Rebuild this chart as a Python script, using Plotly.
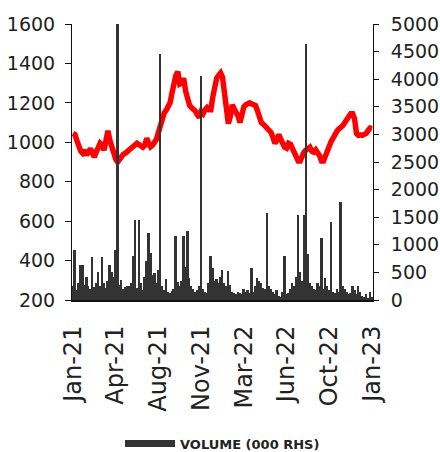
import plotly.graph_objects as go

# Trading-period index along the category axis
tick_labels = ["Jan-21", "Apr-21", "Aug-21", "Nov-21", "Mar-22", "Jun-22", "Oct-22", "Jan-23"]
tick_step = 22

# Share price (LHS)
price = [
    1045, 1040, 1010, 975, 955, 945, 960, 935, 950, 968,
    945, 926, 950, 970, 995, 985, 960, 1010, 1058, 1010,
    970, 940, 915, 900, 915, 928, 940, 945, 955, 960,
    972, 985, 990, 995, 988, 985, 975, 985, 1020, 995,
    977, 985, 1000, 1015, 1050, 1090, 1125, 1150, 1162, 1180,
    1200, 1250, 1300, 1340, 1358, 1295, 1300, 1325, 1260, 1205,
    1188, 1176, 1170, 1159, 1140, 1126, 1155, 1145, 1165, 1176,
    1165, 1165, 1230, 1290, 1325, 1340, 1352, 1330, 1250, 1140,
    1095, 1130, 1190, 1170, 1155, 1134, 1100, 1150, 1180, 1190,
    1195, 1200, 1195, 1192, 1186, 1160, 1120, 1100, 1092, 1080,
    1070, 1055, 1050, 1025, 995, 1010, 1040, 1015, 985, 975,
    970, 995, 990, 968, 945, 918, 905, 905, 935, 950,
    960, 970, 975, 955, 950, 962, 950, 932, 905, 905,
    930, 960, 985, 1005, 1022, 1045, 1058, 1068, 1075, 1085,
    1100, 1115, 1132, 1145, 1145, 1120, 1045, 1035, 1038, 1035,
    1040, 1045, 1060, 1072, 1070,
]

# Traded volume, thousands of shares (RHS)
volume = [
    250, 900, 180, 300, 634, 634, 280, 423, 260, 200,
    773, 240, 300, 507, 250, 773, 300, 220, 350, 634,
    507, 420, 906, 5000, 280, 362, 200, 230, 260, 250,
    300, 797, 1449, 220, 1449, 300, 180, 420, 700, 1220,
    845, 450, 483, 300, 544, 4457, 250, 180, 380, 150,
    120, 160, 200, 1160, 320, 250, 350, 1160, 604, 1250,
    400, 250, 200, 150, 180, 250, 4058, 200, 150, 120,
    300, 797, 580, 350, 380, 300, 420, 544, 300, 250,
    532, 280, 150, 120, 100, 150, 130, 110, 200, 150,
    180, 120, 580, 150, 250, 392, 350, 300, 220, 200,
    1570, 250, 200, 150, 100, 180, 80, 50, 150, 797,
    100, 120, 200, 300, 250, 420, 1540, 500, 350, 1540,
    4640, 833, 300, 250, 200, 180, 300, 250, 1123, 200,
    392, 250, 180, 1413, 150, 120, 200, 150, 1781, 250,
    200, 150, 100, 120, 250, 180, 100, 250, 150, 80,
    60, 100, 40, 150, 60,
]

x = list(range(len(price)))
tick_vals = [i * tick_step for i in range(len(tick_labels))]

fig = go.Figure()

fig.add_trace(go.Bar(
    x=x, y=volume, yaxis="y2", name="VOLUME (000 RHS)",
    marker=dict(color="#333333", line=dict(width=0)),
    showlegend=False,
))

fig.add_trace(go.Scatter(
    x=x, y=price, mode="lines", name="Price",
    line=dict(color="#ff0000", width=5.5),
    showlegend=False,
))

# Legend key for the volume bars
fig.add_trace(go.Scatter(
    x=[None], y=[None], mode="lines", name="VOLUME (000 RHS)", yaxis="y2",
    line=dict(color="#333333", width=7),
))

tick_font = dict(family="DejaVu Sans", size=19, color="#222222")

fig.update_layout(
    width=440, height=452,
    margin=dict(l=72, r=67, t=24, b=152, autoexpand=False),
    paper_bgcolor="white", plot_bgcolor="white",
    bargap=0,
    xaxis=dict(
        range=[-0.5, len(price) - 0.5],
        tickmode="array", tickvals=tick_vals, ticktext=tick_labels,
        tickangle=-90, ticks="", showgrid=False, zeroline=False,
        showline=True, linecolor="#111111", linewidth=2,
        tickfont=dict(family="DejaVu Sans", size=24, color="#222222"),
        ticklabelstandoff=14, automargin=False,
    ),
    yaxis=dict(
        range=[200, 1600], dtick=200, showgrid=False, zeroline=False,
        showline=True, linecolor="#111111", linewidth=1,
        ticks="outside", ticklen=6, tickcolor="#111111",
        tickfont=tick_font, ticklabelstandoff=6, automargin=False,
    ),
    yaxis2=dict(
        range=[0, 5000], dtick=500, overlaying="y", side="right",
        showgrid=False, zeroline=False,
        showline=True, linecolor="#111111", linewidth=1,
        ticks="outside", ticklen=5, tickcolor="#111111",
        tickfont=tick_font, ticklabelstandoff=8, automargin=False,
    ),
    legend=dict(
        orientation="h", x=0.5, xanchor="center", y=-0.52, yanchor="middle",
        itemwidth=50,
        font=dict(family="DejaVu Sans", size=13, color="#222222", weight="bold"),
        bgcolor="rgba(0,0,0,0)",
    ),
)

fig.write_html("out.html")
